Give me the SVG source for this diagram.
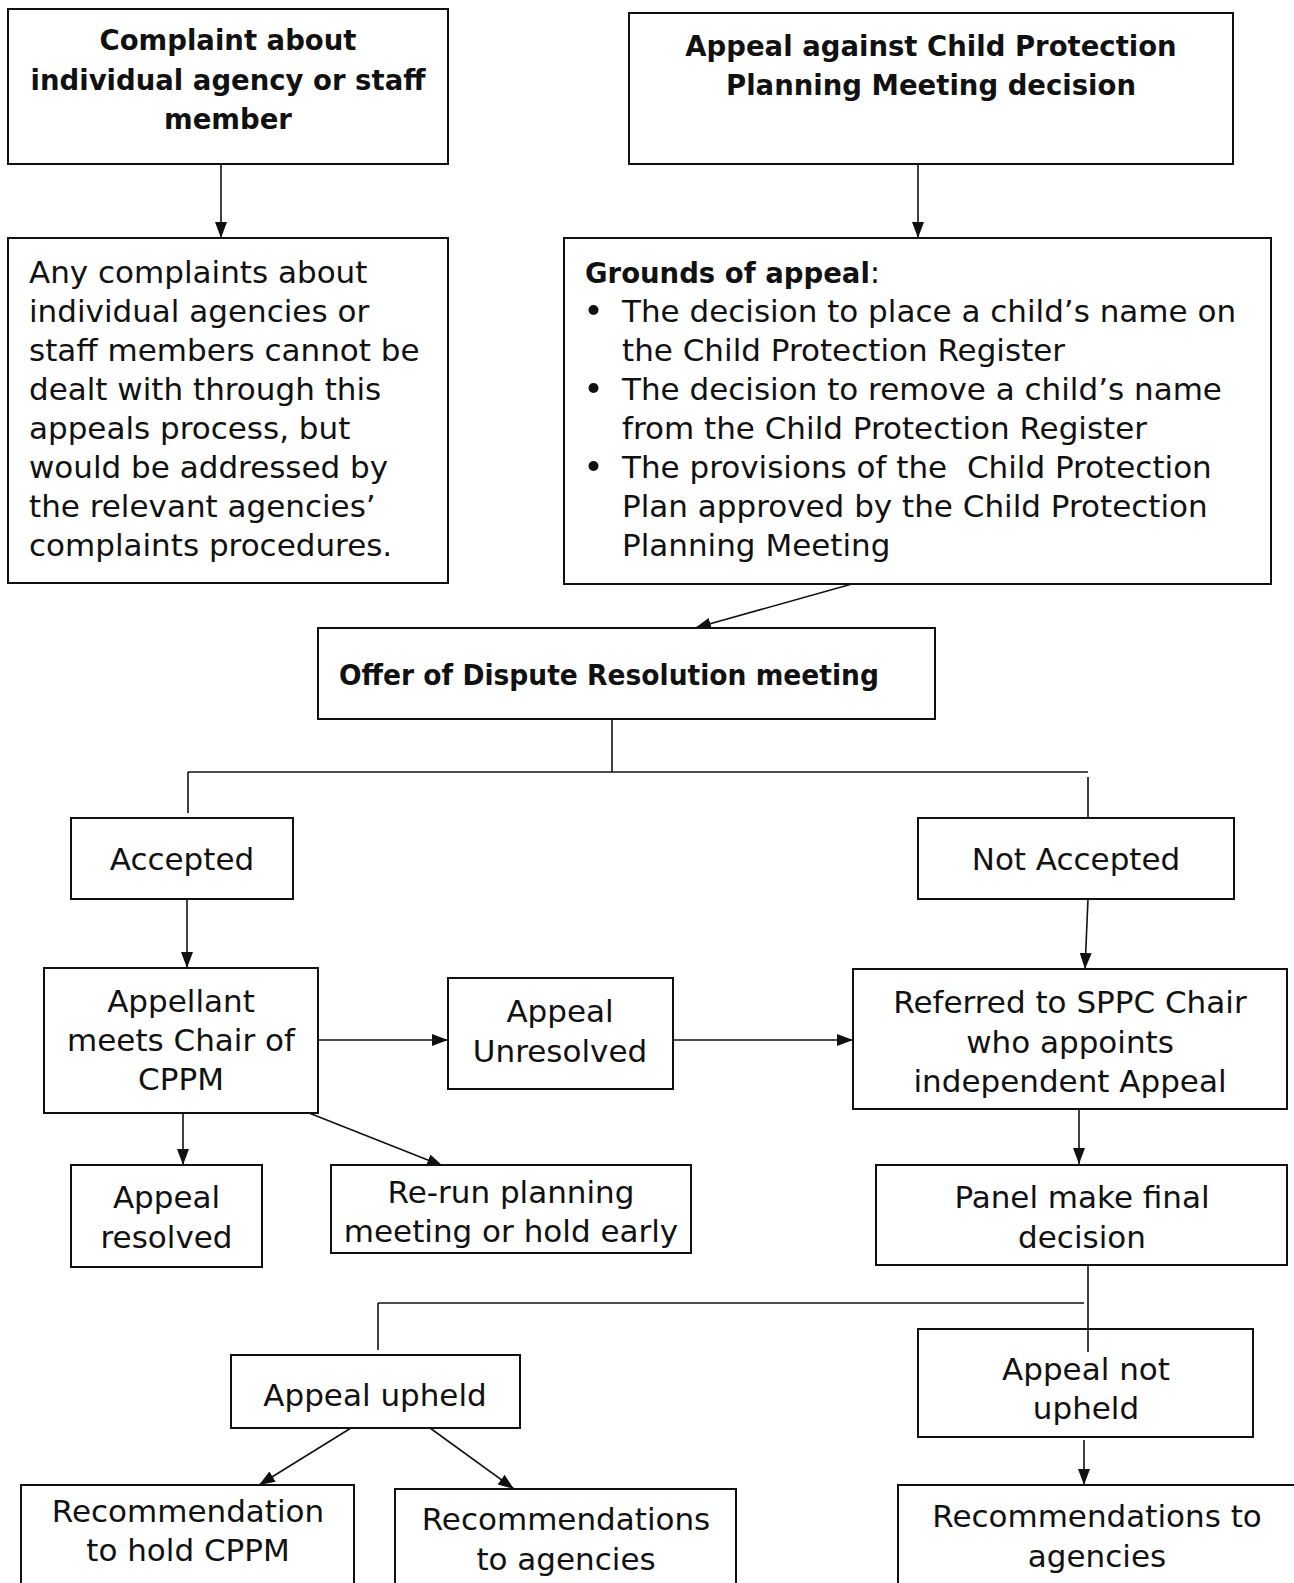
<svg xmlns="http://www.w3.org/2000/svg" width="1294" height="1583" viewBox="0 0 1294 1583">
<style>
.box{fill:#fff;stroke:#111;stroke-width:2}
.t{font-family:"DejaVu Sans",sans-serif;font-size:31px;fill:#111}
.b{font-family:"DejaVu Sans",sans-serif;font-size:27.5px;font-weight:bold;fill:#111}
.c{text-anchor:middle}
.ln{fill:none;stroke:#111;stroke-width:1.6}
</style>
<defs>
<marker id="ahs" viewBox="0 0 16 12" refX="16" refY="6" markerWidth="16" markerHeight="12" markerUnits="userSpaceOnUse" orient="auto">
<path d="M0,0 L16,6 L0,12 z" fill="#111"/>
</marker>
</defs>
<rect width="1294" height="1583" fill="#fff"/>

<g id="connectors">
<line class="ln" x1="221" y1="164" x2="221" y2="238" marker-end="url(#ahs)"/>
<line class="ln" x1="918" y1="164" x2="918" y2="238" marker-end="url(#ahs)"/>
<line class="ln" x1="852" y1="584" x2="695" y2="628" marker-end="url(#ahs)"/>
<polyline class="ln" points="612,719 612,772"/>
<polyline class="ln" points="188,772 1088,772"/>
<polyline class="ln" points="188,772 188,813"/>
<polyline class="ln" points="1088,777 1088,819"/>
<line class="ln" x1="187" y1="899" x2="187" y2="968" marker-end="url(#ahs)"/>
<line class="ln" x1="1088" y1="899" x2="1085" y2="969" marker-end="url(#ahs)"/>
<line class="ln" x1="318" y1="1040" x2="448" y2="1040" marker-end="url(#ahs)"/>
<line class="ln" x1="673" y1="1040" x2="853" y2="1040" marker-end="url(#ahs)"/>
<line class="ln" x1="183" y1="1113" x2="183" y2="1165" marker-end="url(#ahs)"/>
<line class="ln" x1="309" y1="1113" x2="443" y2="1166" marker-end="url(#ahs)"/>
<line class="ln" x1="1079" y1="1109" x2="1079" y2="1164" marker-end="url(#ahs)"/>
<polyline class="ln" points="1088,1265 1088,1352"/>
<polyline class="ln" points="378,1303 1084,1303"/>
<polyline class="ln" points="378,1303 378,1350"/>
<line class="ln" x1="351" y1="1428" x2="259" y2="1485" marker-end="url(#ahs)"/>
<line class="ln" x1="430" y1="1428" x2="514" y2="1489" marker-end="url(#ahs)"/>
<line class="ln" x1="1084" y1="1440" x2="1084" y2="1485" marker-end="url(#ahs)"/>
</g>

<g id="n-complaint">
<rect class="box" x="8" y="9" width="440" height="155"/>
<text class="b c" x="228" y="50">Complaint about</text>
<text class="b c" x="228" y="90">individual agency or staff</text>
<text class="b c" x="228" y="129">member</text>
</g>

<g id="n-appeal-against">
<rect class="box" x="629" y="13" width="604" height="151"/>
<text class="b c" x="931" y="56">Appeal against Child Protection</text>
<text class="b c" x="931" y="95">Planning Meeting decision</text>
</g>

<g id="n-any-complaints">
<rect class="box" x="8" y="238" width="440" height="345"/>
<text class="t" x="29" y="283">Any complaints about</text>
<text class="t" x="29" y="322">individual agencies or</text>
<text class="t" x="29" y="361">staff members cannot be</text>
<text class="t" x="29" y="400">dealt with through this</text>
<text class="t" x="29" y="439">appeals process, but</text>
<text class="t" x="29" y="478">would be addressed by</text>
<text class="t" x="29" y="517">the relevant agencies’</text>
<text class="t" x="29" y="556">complaints procedures.</text>
</g>

<g id="n-grounds">
<rect class="box" x="564" y="238" width="707" height="346"/>
<text x="585" y="283"><tspan class="b">Grounds of appeal</tspan><tspan class="t">:</tspan></text>
<circle cx="593.5" cy="310" r="5" fill="#111"/>
<circle cx="593.5" cy="388" r="5" fill="#111"/>
<circle cx="593.5" cy="466" r="5" fill="#111"/>
<text class="t" x="622" y="322">The decision to place a child’s name on</text>
<text class="t" x="622" y="361">the Child Protection Register</text>
<text class="t" x="622" y="400">The decision to remove a child’s name</text>
<text class="t" x="622" y="439">from the Child Protection Register</text>
<text class="t" x="622" y="478" style="white-space:pre">The provisions of the  Child Protection</text>
<text class="t" x="622" y="517">Plan approved by the Child Protection</text>
<text class="t" x="622" y="556">Planning Meeting</text>
</g>

<g id="n-offer">
<rect class="box" x="318" y="628" width="617" height="91"/>
<text class="b" x="339" y="685" textLength="540" lengthAdjust="spacingAndGlyphs">Offer of Dispute Resolution meeting</text>
</g>

<g id="n-accepted">
<rect class="box" x="71" y="818" width="222" height="81"/>
<text class="t c" x="182" y="870">Accepted</text>
</g>

<g id="n-not-accepted">
<rect class="box" x="918" y="818" width="316" height="81"/>
<text class="t c" x="1076" y="870">Not Accepted</text>
</g>

<g id="n-appellant">
<rect class="box" x="44" y="968" width="274" height="145"/>
<text class="t c" x="181" y="1012">Appellant</text>
<text class="t c" x="181" y="1051">meets Chair of</text>
<text class="t c" x="181" y="1090">CPPM</text>
</g>

<g id="n-unresolved">
<rect class="box" x="448" y="978" width="225" height="111"/>
<text class="t c" x="560" y="1022">Appeal</text>
<text class="t c" x="560" y="1062">Unresolved</text>
</g>

<g id="n-referred">
<rect class="box" x="853" y="969" width="434" height="140"/>
<text class="t c" x="1070" y="1013">Referred to SPPC Chair</text>
<text class="t c" x="1070" y="1053">who appoints</text>
<text class="t c" x="1070" y="1092">independent Appeal</text>
</g>

<g id="n-resolved">
<rect class="box" x="71" y="1165" width="191" height="102"/>
<text class="t c" x="166.5" y="1208">Appeal</text>
<text class="t c" x="166.5" y="1248">resolved</text>
</g>

<g id="n-rerun">
<rect class="box" x="331" y="1165" width="360" height="88"/>
<text class="t c" x="511" y="1203">Re-run planning</text>
<text class="t c" x="511" y="1242">meeting or hold early</text>
</g>

<g id="n-panel">
<rect class="box" x="876" y="1165" width="411" height="100"/>
<text class="t c" x="1082" y="1208">Panel make final</text>
<text class="t c" x="1082" y="1248">decision</text>
</g>

<g id="n-upheld">
<rect class="box" x="231" y="1355" width="289" height="73"/>
<text class="t c" x="375" y="1406">Appeal upheld</text>
</g>

<g id="n-not-upheld">
<rect class="box" x="918" y="1329" width="335" height="108" style="fill:none"/>
<text class="t c" x="1086" y="1380">Appeal not</text>
<text class="t c" x="1086" y="1419">upheld</text>
</g>

<g id="n-rec-cppm">
<rect class="box" x="21" y="1485" width="333" height="110"/>
<text class="t c" x="188" y="1522">Recommendation</text>
<text class="t c" x="188" y="1561">to hold CPPM</text>
</g>

<g id="n-rec-agencies-1">
<rect class="box" x="395" y="1489" width="341" height="110"/>
<text class="t c" x="566" y="1530">Recommendations</text>
<text class="t c" x="566" y="1570">to agencies</text>
</g>

<g id="n-rec-agencies-2">
<rect class="box" x="898" y="1485" width="410" height="110"/>
<text class="t c" x="1097" y="1527">Recommendations to</text>
<text class="t c" x="1097" y="1567">agencies</text>
</g>
</svg>
